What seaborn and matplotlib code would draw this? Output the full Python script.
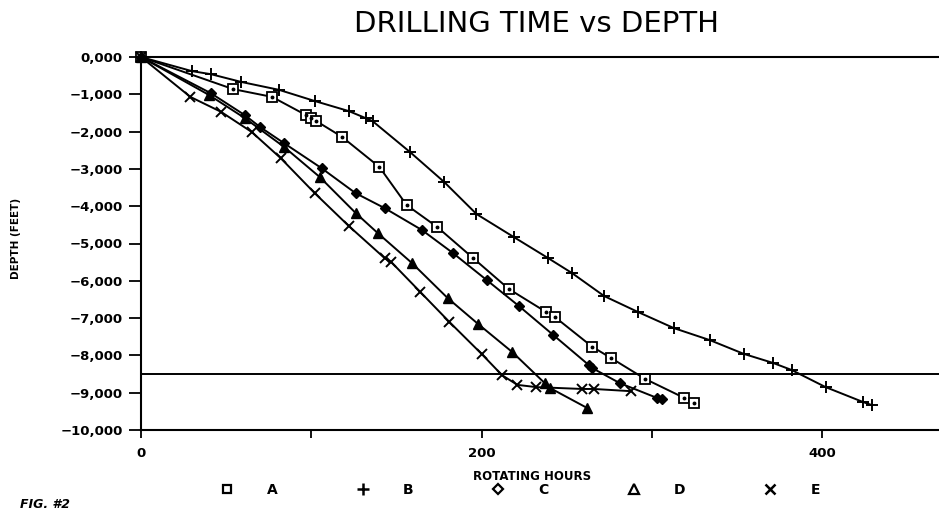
import numpy as np
import pandas as pd
import seaborn as sns
import matplotlib
matplotlib.use("Agg")
import matplotlib.pyplot as plt
from matplotlib.lines import Line2D
from matplotlib.ticker import FuncFormatter

# Rotating hours and depth (feet) for each well
hours_a = [0, 54, 77, 97, 100, 103, 118, 140, 156, 174, 195, 216, 238, 243, 265, 276, 296, 319, 325]
depth_a = [0, -860, -1070, -1560, -1640, -1720, -2140, -2950, -3970, -4560, -5390, -6220, -6840,
           -6970, -7770, -8070, -8630, -9140, -9280]

hours_b = [0, 30, 41, 59, 81, 102, 122, 132, 136, 158, 178, 197, 219, 239, 253, 272, 292, 313,
           334, 354, 371, 382, 402, 424, 429]
depth_b = [0, -380, -460, -670, -880, -1180, -1450, -1640, -1720, -2550, -3350, -4210, -4830,
           -5390, -5790, -6410, -6840, -7270, -7590, -7960, -8200, -8390, -8850, -9250, -9330]

hours_c = [0, 41, 61, 70, 84, 106, 126, 143, 165, 183, 203, 222, 242, 263, 265, 281, 303, 306]
depth_c = [0, -970, -1560, -1880, -2310, -2980, -3650, -4050, -4640, -5250, -5980, -6680, -7450,
           -8260, -8340, -8740, -9140, -9170]

hours_d = [0, 40, 61, 84, 105, 126, 139, 159, 180, 198, 218, 237, 240, 262]
depth_d = [0, -1020, -1640, -2410, -3220, -4180, -4720, -5520, -6460, -7160, -7910, -8740,
           -8870, -9410]

hours_e = [0, 29, 47, 65, 82, 102, 122, 143, 147, 164, 181, 200, 212, 221, 232, 259, 266, 288]
depth_e = [0, -1070, -1470, -2010, -2710, -3650, -4530, -5390, -5500, -6300, -7100, -7960,
           -8530, -8790, -8850, -8900, -8900, -8960]

well_names = ["A", "B", "C", "D", "E"]
reference_depth = -8500

frames = []
for name, h, d in zip(well_names,
                      [hours_a, hours_b, hours_c, hours_d, hours_e],
                      [depth_a, depth_b, depth_c, depth_d, depth_e]):
    frames.append(pd.DataFrame({"hours": h, "depth": d, "well": name}))
df = pd.concat(frames, ignore_index=True)

sns.set_style("white")
plt.rcParams["font.family"] = ["DejaVu Sans"]
plt.rcParams["text.color"] = "black"
plt.rcParams["xtick.color"] = "black"
plt.rcParams["ytick.color"] = "black"

fig = plt.figure(figsize=(9.39, 5.2), dpi=100)
ax = fig.add_axes([141 / 939, 1 - 430 / 520, 1 - 141 / 939, (430 - 57) / 520])

styles = {
    "A": dict(marker="s", ms=6.5, mfc="white", mec="black", mew=1.3),
    "B": dict(marker="+", ms=8, mec="black", mew=1.4),
    "C": dict(marker="D", ms=5.5, mfc="black", mec="black", mew=1.0),
    "D": dict(marker="^", ms=7, mfc="black", mec="black", mew=1.0),
    "E": dict(marker="x", ms=7.5, mec="black", mew=1.4),
}

for name in well_names:
    sub = df[df["well"] == name]
    sns.lineplot(data=sub, x="hours", y="depth", ax=ax, color="black", lw=1.4,
                 estimator=None, sort=False, legend=False, clip_on=False,
                 **styles[name])
    if name == "A":
        # centre dot inside the square markers
        ax.plot(sub["hours"], sub["depth"], ls="none", marker="o", ms=1.8,
                color="black", clip_on=False, zorder=4)

ax.axhline(reference_depth, color="black", lw=1.4)

ax.set_xlim(0, (939 - 141) / 1.703)
ax.set_ylim(-10000, 0)

for side in ["left", "bottom", "top"]:
    ax.spines[side].set_visible(True)
    ax.spines[side].set_color("black")
    ax.spines[side].set_linewidth(1.5)
ax.spines["right"].set_visible(False)

ax.set_yticks(np.arange(-10000, 1, 1000))
ax.yaxis.set_major_formatter(FuncFormatter(
    lambda v, p: "0,000" if v == 0 else "\u2212{:,}".format(int(abs(v)))))
ax.set_xticks([0, 100, 200, 300, 400])
ax.set_xticklabels(["0", "", "200", "", "400"])
ax.tick_params(axis="y", direction="out", length=9, width=1.3, pad=4,
               labelsize=9.5, left=True, colors="black")
ax.tick_params(axis="x", direction="out", length=6, width=1.3, pad=6,
               labelsize=9.5, bottom=True, colors="black")
for lab in ax.get_yticklabels() + ax.get_xticklabels():
    lab.set_fontweight("bold")
ax.set_xlabel("")
ax.set_ylabel("")

fig.text(537 / 939, 1 - 24 / 520, "DRILLING TIME vs DEPTH", ha="center", va="center",
         fontsize=21, color="black")
fig.text(532 / 939, 1 - 476 / 520, "ROTATING HOURS", ha="center", va="center",
         fontsize=8.5, fontweight="bold", color="black")
fig.text(16 / 939, 1 - 238 / 520, "DEPTH (FEET)", ha="center", va="center",
         rotation=90, fontsize=7.5, fontweight="bold", color="black")
fig.text(20 / 939, 1 - 505 / 520, "FIG. #2", ha="left", va="center",
         fontsize=9, fontweight="bold", fontstyle="italic", color="black")

handles = [
    Line2D([], [], ls="none", marker="s", ms=6, mfc="white", mec="black", mew=1.6),
    Line2D([], [], ls="none", marker="+", ms=8, mec="black", mew=1.8),
    Line2D([], [], ls="none", marker="D", ms=5, mfc="white", mec="black", mew=1.6),
    Line2D([], [], ls="none", marker="^", ms=7, mfc="white", mec="black", mew=1.6),
    Line2D([], [], ls="none", marker="x", ms=7, mec="black", mew=1.8),
]
leg = fig.legend(handles, well_names, loc="center", ncol=5, frameon=False,
                 bbox_to_anchor=(520 / 939, 1 - 490 / 520),
                 prop={"size": 10, "weight": "bold"},
                 handlelength=1.0, handletextpad=2.4, columnspacing=5.6)
for t in leg.get_texts():
    t.set_color("black")

fig.savefig("out.png", dpi=100)
